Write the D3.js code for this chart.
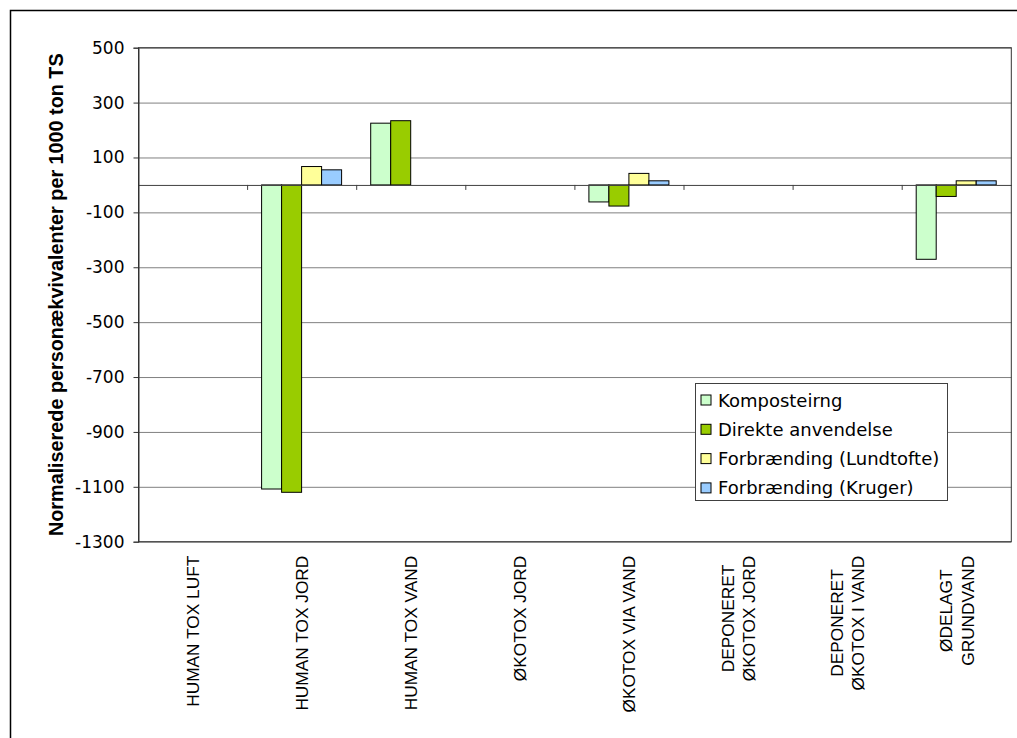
<!DOCTYPE html>
<html>
<head>
<meta charset="utf-8">
<script src="https://cdn.jsdelivr.net/npm/d3@7"></script>
<style>
  body { margin: 0; background: #fff; }
  svg { display: block; }
</style>
</head>
<body>
<script>
// data
var categories = ["HUMAN TOX LUFT", "HUMAN TOX JORD", "HUMAN TOX VAND", "ØKOTOX JORD",
  "ØKOTOX VIA VAND", "DEPONERET\nØKOTOX JORD", "DEPONERET\nØKOTOX I VAND", "ØDELAGT\nGRUNDVAND"];
var seriesNames = ["Komposteirng", "Direkte anvendelse", "Forbrænding (Lundtofte)", "Forbrænding (Kruger)"];
var kompostering = [0, -1108, 225, 0, -62, 0, 0, -271];
var direkte = [0, -1120, 234, 0, -77, 0, 0, -42];
var lundtofte = [0, 67, 0, 0, 42, 0, 0, 15];
var kruger = [0, 55, 0, 0, 15, 0, 0, 15];
var yTicks = [500, 300, 100, -100, -300, -500, -700, -900, -1100, -1300];
var colors = ["#ccffcc", "#99cc00", "#ffff99", "#99ccff"];

var allSeries = [kompostering, direkte, lundtofte, kruger];

var W = 1017, H = 738;
var margin = {left: 138.5, top: 47.7, right: 5.7, bottom: 196.3};
var width = W - margin.left - margin.right;
var height = H - margin.top - margin.bottom;

var svg = d3.select("body").append("svg").attr("width", W).attr("height", H);

// outer chart frame (only top/left visible)
svg.append("rect")
  .attr("x", 10.5).attr("y", 10.5).attr("width", W + 20).attr("height", H + 20)
  .attr("fill", "none").attr("stroke", "#000").attr("stroke-width", 1.5);

var g = svg.append("g").attr("transform", "translate(" + margin.left + "," + margin.top + ")");

var x0 = d3.scaleBand().domain(categories).range([0, width]);
var x1 = d3.scaleBand().domain(seriesNames).range([14, 94]);
var y = d3.scaleLinear().domain([-1300, 500]).range([height, 0]);

// gridlines
g.append("g")
  .call(d3.axisLeft(y).tickValues(yTicks).tickSize(-width).tickFormat(""))
  .call(function(s) {
    s.select(".domain").remove();
    s.selectAll("line").attr("stroke", "#808080");
  });

// bars
categories.forEach(function(c, i) {
  allSeries.forEach(function(vals, j) {
    var v = vals[i];
    if (v === 0) return;
    g.append("rect")
      .attr("x", x0(c) + x1(seriesNames[j]))
      .attr("y", y(Math.max(0, v)))
      .attr("width", x1.bandwidth())
      .attr("height", Math.abs(y(v) - y(0)))
      .attr("fill", colors[j])
      .attr("stroke", "#000")
      .attr("stroke-width", 1);
  });
});

// x axis on the zero line
var xAxis = g.append("g")
  .attr("transform", "translate(0," + y(0) + ")")
  .call(d3.axisBottom(x0).tickSize(0).tickFormat(""));
xAxis.select(".domain").attr("stroke", "#404040");
categories.forEach(function(c, i) {
  if (i === 0) return;
  xAxis.append("line")
    .attr("x1", x0(c)).attr("x2", x0(c)).attr("y1", 0).attr("y2", 5)
    .attr("stroke", "#404040");
});

// plot border
g.append("rect")
  .attr("width", width).attr("height", height)
  .attr("fill", "none").attr("stroke", "#333");

// y axis
var yAxis = g.append("g")
  .call(d3.axisLeft(y).tickValues(yTicks).tickSize(5).tickPadding(9)
    .tickFormat(function(d) { return String(d); }));
yAxis.select(".domain").attr("stroke", "#333");
yAxis.selectAll("line").attr("stroke", "#333");
yAxis.selectAll("text")
  .attr("font-family", "Verdana, 'DejaVu Sans', sans-serif")
  .attr("font-size", 17).attr("fill", "#000");

// category labels, rotated, block anchored at the top
var labelTop = height + 14;
categories.forEach(function(c) {
  var lines = c.split("\n");
  var cx = x0(c) + x0.bandwidth() / 2;
  var t = g.append("text")
    .attr("font-family", "Arial, 'Liberation Sans', sans-serif")
    .attr("font-size", 17.3)
    .attr("fill", "#000")
    .attr("text-anchor", "middle");
  var spans = lines.map(function(l) {
    return t.append("tspan").text(l);
  });
  var maxLen = d3.max(spans, function(s) { return s.node().getComputedTextLength(); });
  var lineH = 21.5;
  spans.forEach(function(s, k) {
    s.attr("x", 0).attr("y", (k - (lines.length - 1) / 2) * lineH + 6);
  });
  t.attr("transform", "translate(" + cx + "," + (labelTop + maxLen / 2) + ") rotate(-90)");
});

// y axis title
svg.append("text")
  .attr("transform", "translate(63," + (margin.top + height / 2) + ") rotate(-90)")
  .attr("text-anchor", "middle")
  .attr("font-family", "Arial, 'Liberation Sans', sans-serif")
  .attr("font-weight", "bold")
  .attr("font-size", 19.8)
  .text("Normaliserede personækvivalenter per 1000 ton TS");

// legend
var lg = svg.append("g").attr("transform", "translate(695.5,383.5)");
lg.append("rect").attr("width", 252).attr("height", 117)
  .attr("fill", "#fff").attr("stroke", "#404040");
seriesNames.forEach(function(n, i) {
  var row = lg.append("g").attr("transform", "translate(0," + (16.5 + i * 29.3) + ")");
  row.append("rect").attr("x", 5.5).attr("y", -5).attr("width", 10).attr("height", 10)
    .attr("fill", colors[i]).attr("stroke", "#000");
  row.append("text").attr("x", 22.5).attr("y", 6.5)
    .attr("font-family", "Verdana, 'DejaVu Sans', sans-serif")
    .attr("font-size", 18)
    .text(n);
});
</script>
</body>
</html>
